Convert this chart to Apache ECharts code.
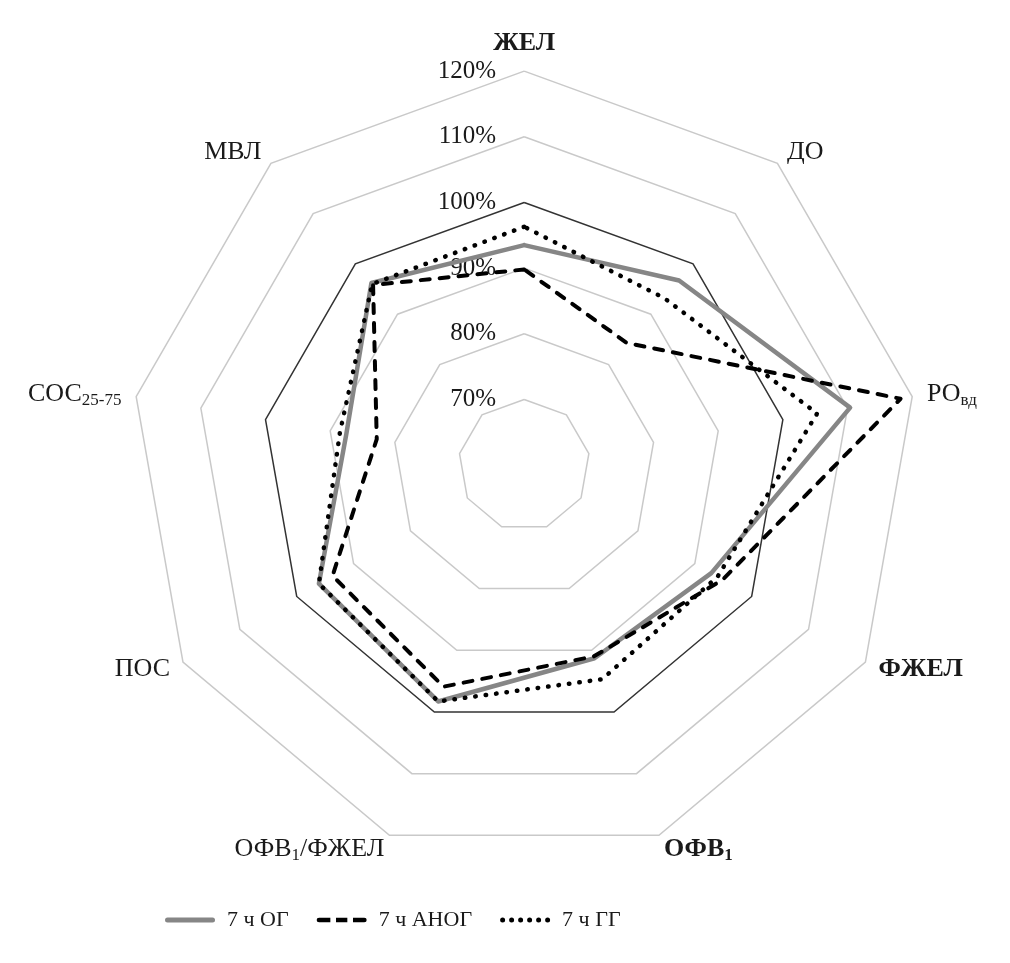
<!DOCTYPE html>
<html>
<head>
<meta charset="utf-8">
<script src="https://cdn.jsdelivr.net/npm/echarts@6/dist/echarts.min.js"></script>
<style>
  html, body { margin: 0; padding: 0; background: #fff; }
  #chart { width: 1010px; height: 963px; }
</style>
</head>
<body>
<div id="chart"></div>
<script>
// Axes, clockwise from the top
const categories = ['ЖЕЛ', 'ДО', 'РОвд', 'ФЖЕЛ', 'ОФВ1', 'ОФВ1/ФЖЕЛ', 'ПОС', 'СОС25-75', 'МВЛ'];
const seriesNames = ['7 ч ОГ', '7 ч АНОГ', '7 ч ГГ'];
const valuesOG   = [93.5, 96.7, 110.4, 92.9, 91.3, 98.3, 96.1, 87.5, 96.2];
const valuesANOG = [89.8, 84.3, 118.2, 94.9, 91.0, 95.9, 93.7, 82.8, 95.8];
const valuesGG   = [96.3, 93.2, 105.3, 94.0, 94.7, 98.3, 96.1, 88.5, 96.0];
const axisMin = 60, axisMax = 120, axisStep = 10;
const tickLabels = ['', '70%', '80%', '90%', '100%', '110%', '120%'];

const boldNames = ['ЖЕЛ', 'ФЖЕЛ', 'ОФВ1'];
const nameParts = {
  'РОвд': [['РО', 'm'], ['вд', 's']],
  'ОФВ1': [['ОФВ', 'm'], ['1', 's']],
  'ОФВ1/ФЖЕЛ': [['ОФВ', 'm'], ['1', 's'], ['/ФЖЕЛ', 'm']],
  'СОС25-75': [['СОС', 'm'], ['25-75', 's']]
};
function richName(name) {
  const bold = boldNames.indexOf(name) >= 0;
  const parts = nameParts[name] || [[name, 'm']];
  return parts.map(function (p) {
    const style = (bold ? 'b' : 'n') + p[1];
    return '{' + style + '|' + p[0] + '}';
  }).join('');
}

// ECharts places indicators counter-clockwise: keep first, reverse the rest
const order = [0].concat(categories.map(function (_, i) { return i; }).slice(1).reverse());
function reorder(arr) { return order.map(function (i) { return arr[i]; }); }

const FONT = '"Liberation Serif", "Times New Roman", serif';
const indicator = reorder(categories).map(function (c, i) {
  const ind = { name: c, min: axisMin, max: axisMax };
  if (i === 0) {
    ind.axisLabel = { show: true };
  }
  return ind;
});

const splitColors = tickLabels.map(function (t) { return t === '100%' ? '#333333' : '#c9c9c9'; });

// legend glyphs (50 x 5 box): solid rounded bar, three dashes, six dots
const iconSolid = 'path://M2.5,0h45a2.5,2.5 0 0,1 0,5h-45a2.5,2.5 0 0,1 0,-5z';
const iconDashed = 'path://M1,0h12v5h-12a1,1 0 0,1 0,-5z M19,0h12v5h-12z M37,0h12a1,1 0 0,1 0,5h-12z';
let dots = '';
for (let k = 0; k < 6; k++) {
  const x0 = k * 9;
  dots += 'M' + x0 + ',2.5a2.5,2.5 0 1,0 5,0a2.5,2.5 0 1,0 -5,0z ';
}
const iconDotted = 'path://' + dots;

const chart = echarts.init(document.getElementById('chart'));
chart.setOption({
  backgroundColor: '#ffffff',
  animation: false,
  legend: {
    left: 160,
    top: 904,
    itemWidth: 50,
    itemHeight: 5,
    itemGap: 28,
    textStyle: { fontFamily: FONT, fontSize: 22, color: '#1a1a1a', padding: [0, 0, 0, 7] },
    data: [
      { name: seriesNames[0], icon: iconSolid, itemStyle: { color: '#868686' } },
      { name: seriesNames[1], icon: iconDashed, itemStyle: { color: '#000000' } },
      { name: seriesNames[2], icon: iconDotted, itemStyle: { color: '#000000' } }
    ]
  },
  radar: {
    center: ['51.9%', '48.3%'],
    radius: 394,
    startAngle: 90,
    shape: 'polygon',
    splitNumber: (axisMax - axisMin) / axisStep,
    indicator: indicator,
    axisName: {
      formatter: function (name) { return richName(name); },
      rich: {
        nm: { fontFamily: FONT, fontSize: 26, color: '#1a1a1a' },
        ns: { fontFamily: FONT, fontSize: 17, color: '#1a1a1a', padding: [12, 0, 0, 0] },
        bm: { fontFamily: FONT, fontSize: 26, fontWeight: 'bold', color: '#1a1a1a' },
        bs: { fontFamily: FONT, fontSize: 17, fontWeight: 'bold', color: '#1a1a1a', padding: [12, 0, 0, 0] }
      }
    },
    nameGap: 15,
    axisLine: { show: false },
    axisTick: { show: false },
    splitArea: { show: false },
    splitLine: { lineStyle: { color: splitColors, width: 1.5 } },
    axisLabel: {
      show: false,
      margin: 28,
      fontFamily: FONT,
      fontSize: 25,
      color: '#1a1a1a',
      formatter: function (v) {
        const idx = Math.round((v - axisMin) / axisStep);
        return tickLabels[idx] || '';
      }
    }
  },
  series: [{
    type: 'radar',
    symbol: 'none',
    data: [
      {
        name: seriesNames[0],
        value: reorder(valuesOG),
        lineStyle: { color: '#868686', width: 4.5, type: 'solid', cap: 'round' },
        itemStyle: { color: '#868686' }
      },
      {
        name: seriesNames[1],
        value: reorder(valuesANOG),
        lineStyle: { color: '#000000', width: 4, type: [9, 10], cap: 'round' },
        itemStyle: { color: '#000000' }
      },
      {
        name: seriesNames[2],
        value: reorder(valuesGG),
        lineStyle: { color: '#000000', width: 4.5, type: [0.5, 10], cap: 'round' },
        itemStyle: { color: '#000000' }
      }
    ]
  }]
});
</script>
</body>
</html>
